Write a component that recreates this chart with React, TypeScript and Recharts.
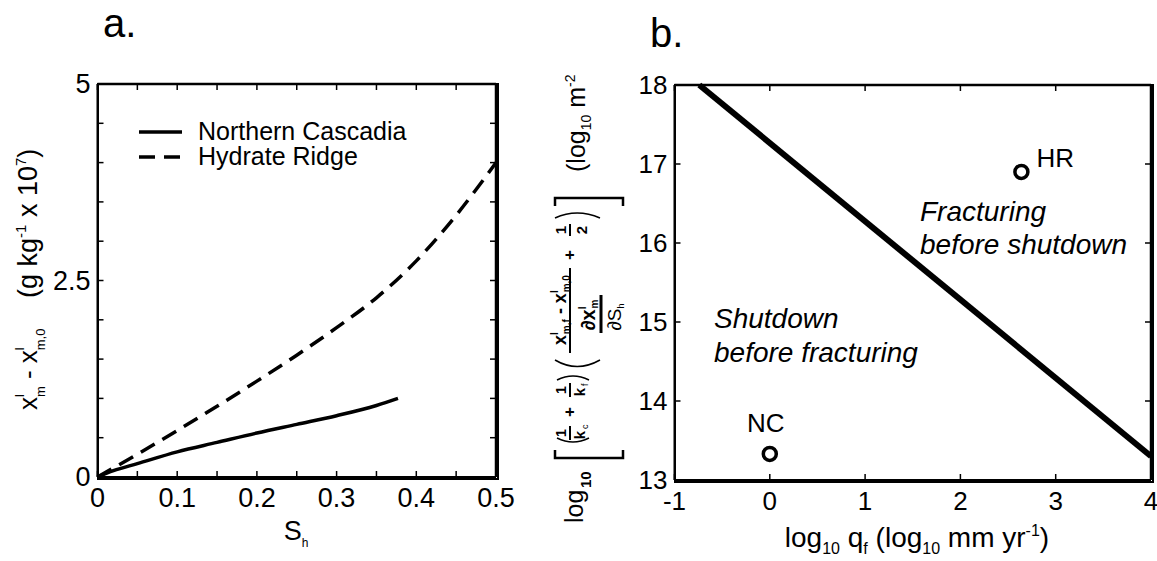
import React from "react";
import {
  LineChart,
  Line,
  ComposedChart,
  Scatter,
  XAxis,
  YAxis,
  Legend,
} from "recharts";

const FONT = "'Liberation Sans', Arial, Helvetica, sans-serif";

// --- panel a: mass fraction change vs hydrate saturation ---
const ncSaturation = [0, 0.02, 0.05, 0.1, 0.15, 0.2, 0.25, 0.3, 0.35, 0.377];
const ncDelta = [0, 0.08, 0.17, 0.32, 0.44, 0.56, 0.67, 0.78, 0.91, 1.0];
const hrSaturation = [0, 0.05, 0.1, 0.15, 0.2, 0.25, 0.3, 0.35, 0.4, 0.45, 0.5];
const hrDelta = [0, 0.29, 0.59, 0.9, 1.22, 1.55, 1.9, 2.28, 2.75, 3.33, 4.0];
const shTicks = [0, 0.05, 0.1, 0.15, 0.2, 0.25, 0.3, 0.35, 0.4, 0.45, 0.5];
const shLabels = [0, 0.1, 0.2, 0.3, 0.4, 0.5];
const deltaTicks = [0, 0.5, 1, 1.5, 2, 2.5, 3, 3.5, 4, 4.5, 5];
const deltaLabels = [0, 2.5, 5];
const legendOrder = ["Northern Cascadia", "Hydrate Ridge"];

// --- panel b: permeability threshold vs flux ---
const boundaryFlux = [-0.74, 4];
const boundaryPerm = [18, 13.3];
const siteNames = ["NC", "HR"];
const siteFlux = [0, 2.64];
const sitePerm = [13.33, 16.9];
const fluxTicks = [-1, 0, 1, 2, 3, 4];
const permTicks = [13, 14, 15, 16, 17, 18];

const ncData = ncSaturation.map((s, i) => ({ s, v: ncDelta[i] }));
const hrData = hrSaturation.map((s, i) => ({ s, v: hrDelta[i] }));
const boundaryData = boundaryFlux.map((x, i) => ({ x, y: boundaryPerm[i] }));
const siteData = siteNames.map((name, i) => ({ name, x: siteFlux[i], y: sitePerm[i] }));

const seriesDash: Record<string, string | undefined> = {
  "Northern Cascadia": undefined,
  "Hydrate Ridge": "16 9",
};

// plot boxes in page pixels (must agree with the chart margins below)
const BOX_A = { x0: 97.5, x1: 496, y0: 84, y1: 477, dx: [0, 0.5], dy: [0, 5] };
const BOX_B = { x0: 674.5, x1: 1151, y0: 85, y1: 480, dx: [-1, 4], dy: [13, 18] };

type Side = "left" | "bottom";

const makeTick =
  (side: Side, labels: number[], fontSize: number) =>
  (props: any) => {
    const { x, y, payload } = props;
    const v = payload.value;
    const show = labels.some((l) => Math.abs(l - v) < 1e-9);
    if (!show) return <g />;
    if (side === "left") {
      return (
        <text x={x - 7} y={y} textAnchor="end" dominantBaseline="central" fontSize={fontSize} fontFamily={FONT} fill="#000">
          {String(v)}
        </text>
      );
    }
    return (
      <text x={x} y={y + 21} textAnchor="middle" dominantBaseline="central" fontSize={fontSize} fontFamily={FONT} fill="#000">
        {String(v)}
      </text>
    );
  };

const axisLine = { stroke: "#000", strokeWidth: 2 };

// box outline as a bordered div, inward ticks on all four sides as svg lines
const FrameBox = ({ box }: { box: typeof BOX_A }) => (
  <div
    style={{
      position: "absolute",
      left: box.x0 - 1,
      top: box.y0 - 1,
      width: box.x1 - box.x0,
      height: box.y1 - box.y0,
      border: "2px solid #000",
      pointerEvents: "none",
    }}
  />
);

const FrameTicks = ({ box, xTicks, yTicks }: { box: typeof BOX_A; xTicks: number[]; yTicks: number[] }) => {
  const px = (v: number) => box.x0 + ((v - box.dx[0]) / (box.dx[1] - box.dx[0])) * (box.x1 - box.x0);
  const py = (v: number) => box.y1 - ((v - box.dy[0]) / (box.dy[1] - box.dy[0])) * (box.y1 - box.y0);
  const len = 6;
  return (
    <g>
      <line x1={box.x0} x2={box.x1} y1={box.y0} y2={box.y0} stroke="#000" strokeWidth={2.5} />
      <line x1={box.x1} x2={box.x1} y1={box.y0} y2={box.y1} stroke="#000" strokeWidth={2.5} />
      {xTicks.map((t) => (
        <g key={`x${t}`}>
          <line x1={px(t)} x2={px(t)} y1={box.y1} y2={box.y1 - len} stroke="#000" strokeWidth={1.5} />
          <line x1={px(t)} x2={px(t)} y1={box.y0} y2={box.y0 + len} stroke="#000" strokeWidth={1.5} />
        </g>
      ))}
      {yTicks.map((t) => (
        <g key={`y${t}`}>
          <line x1={box.x0} x2={box.x0 + len} y1={py(t)} y2={py(t)} stroke="#000" strokeWidth={1.5} />
          <line x1={box.x1} x2={box.x1 - len} y1={py(t)} y2={py(t)} stroke="#000" strokeWidth={1.5} />
        </g>
      ))}
    </g>
  );
};

const renderLegend = (props: any) => {
  const payload = [...(props.payload || [])]
    .filter((e: any) => legendOrder.includes(e.value))
    .sort((a: any, b: any) => legendOrder.indexOf(a.value) - legendOrder.indexOf(b.value));
  return (
    <div style={{ fontFamily: FONT, fontSize: 25, color: "#000" }}>
      {payload.map((entry: any) => (
        <div key={entry.value} style={{ display: "flex", alignItems: "center", height: 25 }}>
          <svg width={59} height={10} style={{ flex: "none" }}>
            <line x1={0} x2={43} y1={5} y2={5} stroke="#000" strokeWidth={3.5} strokeDasharray={seriesDash[entry.value]} />
          </svg>
          <span style={{ whiteSpace: "nowrap", lineHeight: "25px" }}>{entry.value}</span>
        </div>
      ))}
    </div>
  );
};

const siteLabelStyle: Record<string, { dx: number; dy: number; anchor: "start" | "middle" }> = {
  NC: { dx: -4, dy: -22, anchor: "middle" },
  HR: { dx: 15, dy: -5, anchor: "start" },
};

const SiteMarker = (props: any) => {
  const { cx, cy, payload } = props;
  const st = siteLabelStyle[payload.name];
  return (
    <g>
      <circle cx={cx} cy={cy} r={6.5} fill="#fff" stroke="#000" strokeWidth={3.5} />
      <text x={cx + st.dx} y={cy + st.dy} textAnchor={st.anchor} fontSize={26} fontFamily={FONT} fill="#000">
        {payload.name}
      </text>
    </g>
  );
};

const PanelA = () => (
  <LineChart width={560} height={561} margin={{ top: 84, right: 64, bottom: 34, left: 37.5 }}>
    <XAxis dataKey="s" type="number" domain={[0, 0.5]} ticks={shTicks} height={50} tickSize={0} tickMargin={0} tickLine={false} axisLine={axisLine} tick={makeTick("bottom", shLabels, 27)} interval={0} />
    <YAxis type="number" domain={[0, 5]} ticks={deltaTicks} width={60} tickSize={0} tickMargin={0} tickLine={false} axisLine={axisLine} tick={makeTick("left", deltaLabels, 27)} interval={0} />
    <Legend
      content={renderLegend}
      layout="vertical"
      align="center"
      verticalAlign="middle"
      wrapperStyle={{ left: 139, top: 119, width: "auto" }}
    />
    <Line data={ncData} dataKey="v" name="Northern Cascadia" stroke="#000" strokeWidth={3.5} dot={false} isAnimationActive={false} type="monotone" />
    <Line data={hrData} dataKey="v" name="Hydrate Ridge" stroke="#000" strokeWidth={3.5} strokeDasharray="16 9" dot={false} isAnimationActive={false} type="monotone" />
  </LineChart>
);

const PanelB = () => (
  <ComposedChart width={597} height={561} margin={{ top: 85, right: 6, bottom: 31, left: 74.5 }}>
    <XAxis dataKey="x" type="number" domain={[-1, 4]} ticks={fluxTicks} height={50} tickSize={0} tickMargin={0} tickLine={false} axisLine={axisLine} tick={makeTick("bottom", fluxTicks, 26)} interval={0} />
    <YAxis dataKey="y" type="number" domain={[13, 18]} ticks={permTicks} width={40} tickSize={0} tickMargin={0} tickLine={false} axisLine={axisLine} tick={makeTick("left", permTicks, 26)} interval={0} />
    <Line data={boundaryData} dataKey="y" stroke="#000" strokeWidth={6} dot={false} isAnimationActive={false} type="linear" />
    <Scatter data={siteData} dataKey="y" shape={<SiteMarker />} isAnimationActive={false} />
  </ComposedChart>
);

const Annotations = () => (
  <svg width={1157} height={561} style={{ position: "absolute", left: 0, top: 0, pointerEvents: "none" }} fontFamily={FONT} fill="#000">
    <FrameTicks box={BOX_A} xTicks={shTicks} yTicks={deltaTicks} />
    <FrameTicks box={BOX_B} xTicks={fluxTicks} yTicks={permTicks} />

    <text x={103} y={37} fontSize={40}>a.</text>
    <text x={650} y={47} fontSize={40}>b.</text>

    {/* panel a axis titles */}
    <g transform="translate(37, 410) rotate(-90)">
      <text x={0} y={0} fontSize={26}>
        x<tspan dy={-13} fontSize={13}>l</tspan>
        <tspan dx={-3} dy={21} fontSize={13}>m</tspan>
        <tspan dy={-8} fontSize={26}>{" - x"}</tspan>
        <tspan dy={-13} fontSize={13}>l</tspan>
        <tspan dx={-3} dy={21} fontSize={13}>m,0</tspan>
      </text>
      <text x={112} y={0} fontSize={27}>
        (g kg<tspan dy={-11} fontSize={15}>-1</tspan>
        <tspan dy={11}>{" x 10"}</tspan>
        <tspan dy={-11} fontSize={15}>7</tspan>
        <tspan dy={11}>)</tspan>
      </text>
    </g>
    <text x={296} y={540} fontSize={27} textAnchor="middle">
      S<tspan dy={7} fontSize={12}>h</tspan>
    </text>

    {/* panel b axis titles */}
    <text x={917} y={547} fontSize={28} textAnchor="middle">
      log<tspan dy={7} fontSize={16}>10</tspan>
      <tspan dy={-7}>{" q"}</tspan>
      <tspan dy={7} fontSize={16}>f</tspan>
      <tspan dy={-7}>{" (log"}</tspan>
      <tspan dy={7} fontSize={16}>10</tspan>
      <tspan dy={-7}>{" mm yr"}</tspan>
      <tspan dy={-11} fontSize={16}>-1</tspan>
      <tspan dy={11}>)</tspan>
    </text>
    <g transform="translate(570, 530) rotate(-90)" stroke="none">
      <text x={7} y={13} fontSize={25}>log</text>
      <text x={42} y={21} fontSize={15} fontWeight="bold">10</text>
      <path d="M 80 -15 L 72 -15 L 72 53 L 80 53" fill="none" stroke="#000" strokeWidth={2.5} />
      <path d="M 92 -13 Q 84 3 92 19" fill="none" stroke="#000" strokeWidth={1.5} />
      <text x={97} y={-4} fontSize={14} fontWeight="bold" textAnchor="middle">1</text>
      <line x1={90} x2={104} y1={0} y2={0} stroke="#000" strokeWidth={2} />
      <text x={95} y={15} fontSize={15} fontWeight="bold" textAnchor="middle">k</text>
      <text x={101} y={18} fontSize={9}>c</text>
      <text x={118} y={5} fontSize={17} fontWeight="bold" textAnchor="middle">+</text>
      <text x={140} y={-4} fontSize={14} fontWeight="bold" textAnchor="middle">1</text>
      <line x1={133} x2={147} y1={0} y2={0} stroke="#000" strokeWidth={2} />
      <text x={138} y={15} fontSize={15} fontWeight="bold" textAnchor="middle">k</text>
      <text x={144} y={18} fontSize={9}>f</text>
      <path d="M 150 -13 Q 158 3 150 19" fill="none" stroke="#000" strokeWidth={1.5} />
      <path d="M 170 -15 Q 157 7 170 30" fill="none" stroke="#000" strokeWidth={1.5} />
      <text x={220} y={-4} fontSize={18} fontWeight="bold" textAnchor="middle">
        x<tspan dy={-8} fontSize={10}>l</tspan>
        <tspan dx={-2} dy={12} fontSize={10}>m,f</tspan>
        <tspan dy={-4} fontSize={18}>{" - x"}</tspan>
        <tspan dy={-8} fontSize={10}>l</tspan>
        <tspan dx={-2} dy={12} fontSize={10}>m,0</tspan>
      </text>
      <line x1={177} x2={262} y1={0} y2={0} stroke="#000" strokeWidth={2} />
      <text x={215} y={25} fontSize={20} fontWeight="bold" textAnchor="middle">
        ∂x<tspan dy={-9} fontSize={10}>l</tspan>
        <tspan dx={-2} dy={12} fontSize={10}>m</tspan>
      </text>
      <line x1={197} x2={235} y1={31} y2={31} stroke="#000" strokeWidth={3} />
      <text x={213} y={51} fontSize={19} textAnchor="middle">
        ∂S<tspan dy={3} fontSize={9}>h</tspan>
      </text>
      <text x={275} y={5} fontSize={17} fontWeight="bold" textAnchor="middle">+</text>
      <text x={300} y={-4} fontSize={15} fontWeight="bold" textAnchor="middle">1</text>
      <line x1={294} x2={306} y1={0} y2={0} stroke="#000" strokeWidth={2} />
      <text x={300} y={17} fontSize={15} fontWeight="bold" textAnchor="middle">2</text>
      <path d="M 312 -15 Q 322 7 312 30" fill="none" stroke="#000" strokeWidth={1.5} />
      <path d="M 324 -15 L 332 -15 L 332 53 L 324 53" fill="none" stroke="#000" strokeWidth={2.5} />
      <text x={358} y={15} fontSize={25}>
        (log<tspan dy={6} fontSize={14}>10</tspan>
        <tspan dy={-6}>{" m"}</tspan>
        <tspan dy={-10} fontSize={14}>-2</tspan>
      </text>
    </g>

    {/* region annotations */}
    <g fontStyle="italic" fontSize={28}>
      <text x={920} y={221}>Fracturing</text>
      <text x={920} y={254}>before shutdown</text>
      <text x={714} y={328}>Shutdown</text>
      <text x={714} y={362}>before fracturing</text>
    </g>
  </svg>
);

export default function App() {
  return (
    <div style={{ position: "absolute", left: 0, top: 0, width: 1157, height: 561, background: "#fff", fontFamily: FONT }}>
      <div style={{ position: "absolute", left: 0, top: 0 }}>
        <PanelA />
      </div>
      <div style={{ position: "absolute", left: 560, top: 0 }}>
        <PanelB />
      </div>
      <FrameBox box={BOX_A} />
      <FrameBox box={BOX_B} />
      <Annotations />
    </div>
  );
}
